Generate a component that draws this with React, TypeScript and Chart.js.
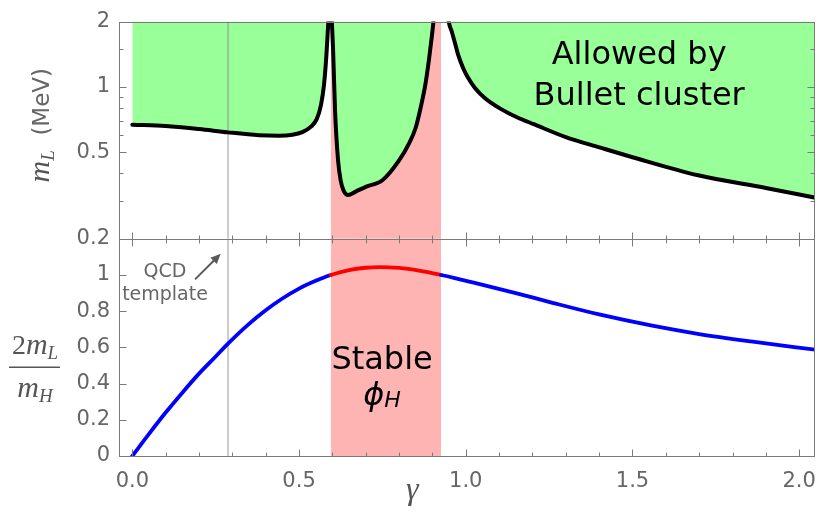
import React, { useEffect, useRef } from 'react';
import { Chart, registerables } from 'chart.js';

Chart.register(...registerables);

// ---------------- data ----------------
const stableBand = [0.595, 0.926];
const qcdGamma = [0.287];
const xRange = [-0.04, 2.045];
const topRange = [0.2, 2];
const bottomRange = [0, 1.2];
const stableBottomSpan = [-0.035, 1.225];

// Bullet-cluster bound (three branches), m_L in MeV
const branch1Gamma = [0, 0.1, 0.2, 0.287, 0.38, 0.44, 0.48, 0.51, 0.535, 0.553, 0.566, 0.575, 0.582, 0.587, 0.59];
const branch1Mass = [0.67, 0.661, 0.64, 0.618, 0.6, 0.597, 0.603, 0.62, 0.655, 0.711, 0.83, 1.03, 1.4, 1.9, 2.3];

const branch2Gamma = [0.596, 0.599, 0.602, 0.608, 0.617, 0.625, 0.633, 0.647, 0.67, 0.7, 0.75, 0.8, 0.83, 0.85, 0.866, 0.879, 0.89, 0.899, 0.906];
const branch2Mass = [2.3, 1.9, 1.5, 0.776, 0.459, 0.37, 0.335, 0.318, 0.33, 0.347, 0.372, 0.459, 0.55, 0.651, 0.82, 1.03, 1.35, 1.75, 2.2];

const branch3Gamma = [0.945, 0.949, 0.958, 0.969, 0.977, 0.992, 1.007, 1.027, 1.056, 1.106, 1.155, 1.204, 1.302, 1.401, 1.5, 1.697, 1.9, 2.05];
const branch3Mass = [2.3, 2.0, 1.8, 1.565, 1.409, 1.224, 1.102, 0.993, 0.893, 0.791, 0.724, 0.674, 0.586, 0.527, 0.475, 0.392, 0.343, 0.309];

// 2 m_L / m_H
const ratioGamma = [0, 0.05, 0.1, 0.15, 0.2, 0.25, 0.287, 0.35, 0.4, 0.45, 0.5, 0.55, 0.595, 0.65, 0.7, 0.74, 0.8, 0.86, 0.926, 0.967, 1.027, 1.15, 1.263, 1.4, 1.559, 1.7, 1.855, 2.05];
const ratioValue = [0, 0.122, 0.24, 0.35, 0.455, 0.55, 0.621, 0.73, 0.805, 0.87, 0.925, 0.968, 1.0, 1.027, 1.04, 1.044, 1.039, 1.024, 1.0, 0.983, 0.956, 0.9, 0.845, 0.782, 0.72, 0.674, 0.633, 0.587];

// ticks
const xTickValues = [0, 0.5, 1, 1.5, 2];
const xTickLabels = ['0.0', '0.5', '1.0', '1.5', '2.0'];
const xMinorTicks = [0.1, 0.2, 0.3, 0.4, 0.6, 0.7, 0.8, 0.9, 1.1, 1.2, 1.3, 1.4, 1.6, 1.7, 1.8, 1.9];
const topTickValues = [0.2, 0.5, 1, 2];
const topTickLabels = ['0.2', '0.5', '1', '2'];
const topMinorTicks = [0.3, 0.4, 0.6, 0.7, 0.8, 0.9, 1.5];
const bottomTickValues = [0, 0.2, 0.4, 0.6, 0.8, 1];
const bottomTickLabels = ['0', '0.2', '0.4', '0.6', '0.8', '1'];

// annotations (data coordinates)
const bulletLines = ['Allowed by', 'Bullet cluster'];
const bulletGamma = [1.52, 1.52];
const bulletMass = [1.27, 0.83];
const qcdLines = ['QCD', 'template'];
const qcdLabelGamma = [0.098, 0.098];
const qcdLabelRatio = [0.99, 0.863];
const qcdArrowGamma = [0.188, 0.265];
const qcdArrowRatio = [0.976, 1.117];
const stableGamma = [0.749, 0.749];
const stableRatio = [0.482, 0.28];

// ---------------- styles ----------------
const GREEN = 'rgb(153,255,153)';
const PINK = 'rgba(255,0,0,0.294)';
const FRAME = '#7a7a7a';
const LABEL = '#666666';
const SANS = '"DejaVu Sans"';
const SERIF = '"Liberation Serif"';

const pts = (xs: number[], ys: number[]) => xs.map((x, i) => ({ x, y: ys[i] }));

type Run = { text: string; font: string; color?: string; dy?: number };
function drawRuns(ctx: CanvasRenderingContext2D, runs: Run[], x: number, y: number, color: string) {
  let total = 0;
  const widths = runs.map((r) => {
    ctx.font = r.font;
    const w = ctx.measureText(r.text).width;
    total += w;
    return w;
  });
  let cx = x - total / 2;
  runs.forEach((r, i) => {
    ctx.font = r.font;
    ctx.fillStyle = r.color || color;
    ctx.fillText(r.text, cx, y + (r.dy || 0));
    cx += widths[i];
  });
}

const framePlugin = {
  id: 'framePlugin',
  afterDatasetsDraw(chart: any) {
    const ctx: CanvasRenderingContext2D = chart.ctx;
    const xs = chart.scales.x;
    const yT = chart.scales.yT;
    const yB = chart.scales.yB;
    ctx.save();
    ctx.strokeStyle = FRAME;
    ctx.lineWidth = 1;
    const L = Math.round(xs.left) + 0.5;
    const R = Math.round(xs.right) + 0.5;
    [yT, yB].forEach((s: any) => {
      ctx.strokeRect(L, Math.round(s.top) + 0.5, R - L, Math.round(s.bottom) - Math.round(s.top));
    });
    ctx.beginPath();
    const xt = (v: number, len: number) => {
      const px = Math.round(xs.getPixelForValue(v)) + 0.5;
      const b = Math.round(yB.bottom) + 0.5;
      const m = Math.round(yB.top) + 0.5;
      ctx.moveTo(px, b); ctx.lineTo(px, b - len);
      ctx.moveTo(px, m); ctx.lineTo(px, m + len);
      ctx.moveTo(px, m); ctx.lineTo(px, m - len);
    };
    xTickValues.forEach((v) => xt(v, 7));
    xMinorTicks.forEach((v) => xt(v, 4));
    const yt = (s: any, v: number, len: number, right: boolean) => {
      const py = Math.round(s.getPixelForValue(v)) + 0.5;
      ctx.moveTo(L, py); ctx.lineTo(L + len, py);
      if (right) { ctx.moveTo(R, py); ctx.lineTo(R - len, py); }
    };
    topTickValues.forEach((v) => yt(yT, v, 7, true));
    topMinorTicks.forEach((v) => yt(yT, v, 4, true));
    bottomTickValues.forEach((v) => yt(yB, v, 7, false));
    ctx.stroke();
    ctx.restore();
  },
  afterDraw(chart: any) {
    const ctx: CanvasRenderingContext2D = chart.ctx;
    const xs = chart.scales.x;
    const yT = chart.scales.yT;
    const yB = chart.scales.yB;
    ctx.save();
    ctx.textAlign = 'left';
    ctx.textBaseline = 'alphabetic';

    // Bullet cluster label
    bulletLines.forEach((t, i) => {
      drawRuns(ctx, [{ text: t, font: `32px ${SANS}` }], xs.getPixelForValue(bulletGamma[i]), yT.getPixelForValue(bulletMass[i]), '#000');
    });
    // Stable phi_H
    drawRuns(ctx, [{ text: 'Stable', font: `32px ${SANS}` }], xs.getPixelForValue(stableGamma[0]), yB.getPixelForValue(stableRatio[0]), '#000');
    drawRuns(ctx, [
      { text: 'ϕ', font: `oblique 32px ${SANS}` },
      { text: 'H', font: `oblique 22px ${SANS}`, dy: 2 },
    ], xs.getPixelForValue(stableGamma[1]), yB.getPixelForValue(stableRatio[1]), '#000');
    // QCD template
    qcdLines.forEach((t, i) => {
      drawRuns(ctx, [{ text: t, font: `19px ${SANS}` }], xs.getPixelForValue(qcdLabelGamma[i]), yB.getPixelForValue(qcdLabelRatio[i]), LABEL);
    });
    const ax0 = xs.getPixelForValue(qcdArrowGamma[0]);
    const ay0 = yB.getPixelForValue(qcdArrowRatio[0]);
    const ax1 = xs.getPixelForValue(qcdArrowGamma[1]);
    const ay1 = yB.getPixelForValue(qcdArrowRatio[1]);
    const ang = Math.atan2(ay1 - ay0, ax1 - ax0);
    ctx.strokeStyle = '#5a5a5a';
    ctx.fillStyle = '#5a5a5a';
    ctx.lineWidth = 2;
    ctx.beginPath();
    ctx.moveTo(ax0, ay0);
    ctx.lineTo(ax1 - 7 * Math.cos(ang), ay1 - 7 * Math.sin(ang));
    ctx.stroke();
    ctx.beginPath();
    ctx.moveTo(ax1, ay1);
    ctx.lineTo(ax1 - 10 * Math.cos(ang) + 4.5 * Math.sin(ang), ay1 - 10 * Math.sin(ang) - 4.5 * Math.cos(ang));
    ctx.lineTo(ax1 - 10 * Math.cos(ang) - 4.5 * Math.sin(ang), ay1 - 10 * Math.sin(ang) + 4.5 * Math.cos(ang));
    ctx.closePath();
    ctx.fill();

    // top y title (rotated)
    ctx.save();
    ctx.translate(49, (yT.top + yT.bottom) / 2 - 5);
    ctx.rotate(-Math.PI / 2);
    drawRuns(ctx, [
      { text: 'm', font: `italic 30px ${SERIF}`, color: '#555' },
      { text: 'L', font: `italic 19px ${SERIF}`, dy: 5, color: '#555' },
      { text: '  (MeV)', font: `23px ${SANS}`, color: LABEL },
    ], 0, 0, LABEL);
    ctx.restore();

    // bottom y title (fraction)
    const fx = 35;
    const barY = yB.getPixelForValue(0.49);
    drawRuns(ctx, [
      { text: '2', font: `28px ${SERIF}` },
      { text: 'm', font: `italic 30px ${SERIF}` },
      { text: 'L', font: `italic 19px ${SERIF}`, dy: 5 },
    ], fx, barY - 13, '#555');
    drawRuns(ctx, [
      { text: 'm', font: `italic 30px ${SERIF}` },
      { text: 'H', font: `italic 19px ${SERIF}`, dy: 5 },
    ], fx, barY + 30, '#555');
    ctx.strokeStyle = '#555';
    ctx.lineWidth = 1.5;
    ctx.beginPath();
    ctx.moveTo(9, barY);
    ctx.lineTo(60, barY);
    ctx.stroke();

    // x title
    drawRuns(ctx, [{ text: 'γ', font: `italic 32px ${SERIF}` }], xs.left + (xs.right - xs.left) * 0.422, yB.bottom + 43, '#555');
    ctx.restore();
  },
};

export default function App() {
  const ref = useRef<HTMLCanvasElement | null>(null);
  useEffect(() => {
    if (!ref.current) return;
    const ctx = ref.current.getContext('2d')!;
    const curve = {
      borderColor: '#000',
      borderWidth: 4,
      pointRadius: 0,
      fill: 'end',
      backgroundColor: GREEN,
      cubicInterpolationMode: 'monotone',
      borderJoinStyle: 'round',
      borderCapStyle: 'round',
      yAxisID: 'yT',
      order: 1,
    };
    const chart = new Chart(ctx, {
      type: 'line',
      data: {
        datasets: [
          { label: 'stableTop', data: pts(stableBand, [topRange[1], topRange[1]]), yAxisID: 'yT', fill: 'start', backgroundColor: PINK, borderWidth: 0, pointRadius: 0, order: 6 },
          { label: 'stableBottom', data: pts(stableBand, [stableBottomSpan[1], stableBottomSpan[1]]), yAxisID: 'yB', fill: { value: stableBottomSpan[0] }, backgroundColor: PINK, borderWidth: 0, pointRadius: 0, order: 5 },
          { label: 'qcdTop', data: pts([qcdGamma[0], qcdGamma[0]], topRange), yAxisID: 'yT', fill: false, borderColor: 'rgba(140,140,140,0.45)', borderWidth: 2, pointRadius: 0, order: 3 },
          { label: 'qcdBottom', data: pts([qcdGamma[0], qcdGamma[0]], bottomRange), yAxisID: 'yB', fill: false, borderColor: 'rgba(140,140,140,0.45)', borderWidth: 2, pointRadius: 0, order: 3 },
          { ...curve, label: 'branch1', data: pts(branch1Gamma, branch1Mass) } as any,
          { ...curve, label: 'branch2', data: pts(branch2Gamma, branch2Mass) } as any,
          { ...curve, label: 'branch3', data: pts(branch3Gamma, branch3Mass) } as any,
          {
            label: 'ratio',
            data: pts(ratioGamma, ratioValue),
            yAxisID: 'yB',
            fill: false,
            borderColor: '#0000ff',
            borderWidth: 3.8,
            pointRadius: 0,
            cubicInterpolationMode: 'monotone',
            borderCapStyle: 'round',
            order: 0,
            segment: {
              borderColor: (c: any) =>
                c.p0.parsed.x >= stableBand[0] - 1e-9 && c.p1.parsed.x <= stableBand[1] + 1e-9 ? '#ff0000' : undefined,
            },
          } as any,
        ],
      },
      options: {
        animation: false,
        responsive: false,
        devicePixelRatio: 1,
        layout: { padding: { top: 20, right: 5, left: 0, bottom: 0 } },
        plugins: {
          legend: { display: false },
          tooltip: { enabled: false },
          filler: { propagate: false, drawTime: 'beforeDatasetsDraw' },
        } as any,
        scales: {
          x: {
            type: 'linear',
            position: 'bottom',
            min: xRange[0],
            max: xRange[1],
            grid: { display: false, drawTicks: false },
            border: { display: false },
            ticks: {
              padding: 13,
              color: LABEL,
              autoSkip: false,
              maxRotation: 0,
              font: { family: 'DejaVu Sans', size: 21 },
              callback: (_v: any, i: number) => xTickLabels[i],
            },
            afterBuildTicks: (s: any) => { s.ticks = xTickValues.map((v) => ({ value: v })); },
            afterFit: (s: any) => { s.height = 64; },
          },
          yB: {
            type: 'linear',
            position: 'left',
            stack: 'panels',
            stackWeight: 1,
            min: bottomRange[0],
            max: bottomRange[1],
            grid: { display: false, drawTicks: false },
            border: { display: false },
            ticks: {
              padding: 9,
              color: LABEL,
              autoSkip: false,
              font: { family: 'DejaVu Sans', size: 21 },
              callback: (_v: any, i: number) => bottomTickLabels[i],
            },
            afterBuildTicks: (s: any) => { s.ticks = bottomTickValues.map((v) => ({ value: v })); },
            afterFit: (s: any) => { s.width = 119; },
          },
          yT: {
            type: 'logarithmic',
            position: 'left',
            stack: 'panels',
            stackWeight: 1,
            min: topRange[0],
            max: topRange[1],
            grid: { display: false, drawTicks: false },
            border: { display: false },
            ticks: {
              padding: 9,
              color: LABEL,
              autoSkip: false,
              font: { family: 'DejaVu Sans', size: 21 },
              callback: (_v: any, i: number) => topTickLabels[i],
            },
            afterBuildTicks: (s: any) => { s.ticks = topTickValues.map((v) => ({ value: v })); },
            afterFit: (s: any) => { s.width = 119; },
          },
        } as any,
      },
      plugins: [framePlugin],
    });
    return () => chart.destroy();
  }, []);
  return (
    <div style={{ position: 'fixed', left: 0, top: 0, width: 829, height: 520, background: '#fff' }}>
      <canvas ref={ref} width={829} height={520} style={{ display: 'block' }} />
    </div>
  );
}
